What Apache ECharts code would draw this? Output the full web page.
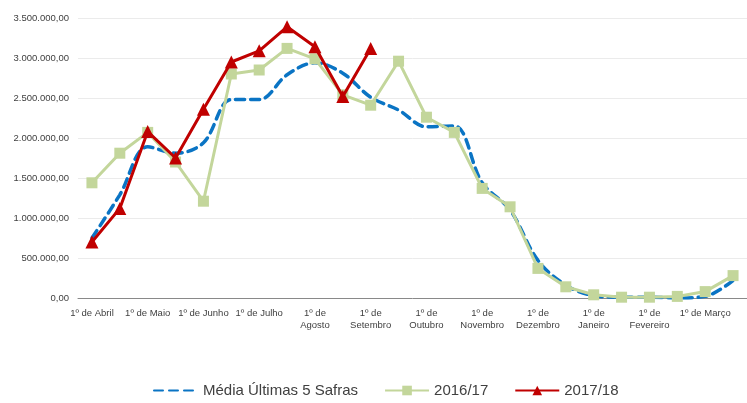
<!DOCTYPE html>
<html>
<head>
<meta charset="utf-8">
<script src="https://cdn.jsdelivr.net/npm/echarts@6/dist/echarts.min.js"></script>
<style>
  html, body { margin: 0; padding: 0; background: #fff; }
  #chart { width: 747px; height: 403px; }
</style>
</head>
<body>
<div id="chart"></div>
<script>
// meses (quinzenas), rótulo a cada 2 pontos
var categories = [
  '1º de Abril', '', '1º de Maio', '', '1º de Junho', '', '1º de Julho', '',
  '1º de\nAgosto', '', '1º de\nSetembro', '', '1º de\nOutubro', '', '1º de\nNovembro', '',
  '1º de\nDezembro', '', '1º de\nJaneiro', '', '1º de\nFevereiro', '', '1º de Março', ''
];

var media5 = [750000, 1290000, 1890000, 1810000, 1940000, 2480000, 2480000, 2790000,
  2940000, 2810000, 2510000, 2350000, 2140000, 2150000, 1440000, 1100000,
  470000, 160000, 30000, 10000, 10000, 0, 20000, 220000];

var safra1617 = [1440000, 1810000, 2070000, 1700000, 1210000, 2800000, 2850000, 3120000,
  2990000, 2540000, 2410000, 2960000, 2260000, 2070000, 1370000, 1140000,
  370000, 140000, 40000, 10000, 10000, 20000, 80000, 280000];

var safra1718 = [700000, 1120000, 2080000, 1750000, 2360000, 2950000, 3090000, 3390000,
  3140000, 2520000, 3120000];

var yTicks = { min: 0, max: 3500000, step: 500000 };

function fmt(v) {
  var s = Math.round(v).toString().replace(/\B(?=(\d{3})+(?!\d))/g, '.');
  return s + ',00';
}

var chart = echarts.init(document.getElementById('chart'));
var font = '"Liberation Sans", Arial, sans-serif';

chart.setOption({
  animation: false,
  textStyle: { fontFamily: font },
  grid: { left: 78, top: 18, width: 672, height: 280, containLabel: false },
  legend: {
    bottom: 0,
    left: 148,
    itemWidth: 44,
    itemHeight: 12,
    itemGap: 26,
    textStyle: { fontSize: 15, color: '#404040', fontFamily: font },
    data: [
      { name: 'Média Últimas 5 Safras', itemStyle: { opacity: 0 } },
      '2016/17',
      '2017/18'
    ]
  },
  xAxis: {
    type: 'category',
    data: categories,
    boundaryGap: true,
    axisLine: { lineStyle: { color: '#898989', width: 1 } },
    axisTick: { show: false },
    axisLabel: { interval: 0, fontSize: 9.5, color: '#404040', margin: 9, lineHeight: 12 }
  },
  yAxis: {
    type: 'value',
    min: yTicks.min,
    max: yTicks.max,
    interval: yTicks.step,
    axisLine: { show: false },
    axisTick: { show: false },
    axisLabel: { fontSize: 9.5, color: '#404040', margin: 9, formatter: fmt },
    splitLine: { lineStyle: { color: '#ebebeb', width: 1 } }
  },
  series: [
    {
      name: 'Média Últimas 5 Safras',
      type: 'line',
      data: media5,
      smooth: 0.35,
      showSymbol: false,
      symbol: 'none',
      lineStyle: { color: '#0a74c4', width: 3.5, type: [9, 6], cap: 'round' },
      itemStyle: { color: '#0a74c4' },
      z: 1
    },
    {
      name: '2016/17',
      type: 'line',
      data: safra1617,
      symbol: 'rect',
      symbolSize: 11,
      lineStyle: { color: '#c3d69b', width: 3 },
      itemStyle: { color: '#c3d69b' },
      z: 2
    },
    {
      name: '2017/18',
      type: 'line',
      data: safra1718,
      symbol: 'triangle',
      symbolSize: 13,
      lineStyle: { color: '#c00000', width: 3 },
      itemStyle: { color: '#c00000' },
      z: 3
    }
  ]
});
</script>
</body>
</html>
